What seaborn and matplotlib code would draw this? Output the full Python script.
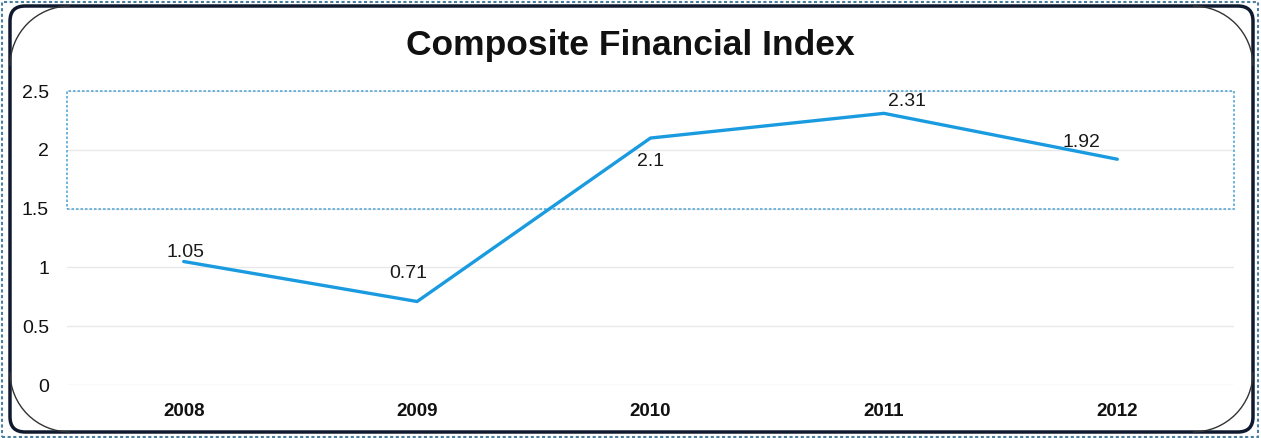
import matplotlib
matplotlib.use("Agg")
import matplotlib.pyplot as plt
import seaborn as sns
import pandas as pd
from matplotlib.patches import FancyBboxPatch, Rectangle, Arc

years = ["2008", "2009", "2010", "2011", "2012"]
index_values = [1.05, 0.71, 2.1, 2.31, 1.92]
y_ticks = [0, 0.5, 1, 1.5, 2, 2.5]
y_tick_labels = ["0", "0.5", "1", "1.5", "2", "2.5"]
band_low, band_high = 1.5, 2.5

sns.set_theme(style="white")
plt.rcParams["font.family"] = ["Liberation Sans", "DejaVu Sans"]

df = pd.DataFrame({"year": years, "value": index_values})

fig = plt.figure(figsize=(12.61, 4.38), dpi=100)
ax = fig.add_axes([67 / 1261, 1 - 385 / 438, (1234 - 67) / 1261, (385 - 91) / 438])

sns.lineplot(data=df, x="year", y="value", ax=ax, color="#1A9BE0",
             linewidth=2.4, sort=False)

ax.set_xlim(-0.5, 4.5)
ax.set_ylim(0, 2.5)
ax.set_yticks(y_ticks)
ax.set_yticklabels(y_tick_labels, fontsize=14, color="#111111")
ax.set_xlabel("")
ax.set_ylabel("")
for lab in ax.get_xticklabels():
    lab.set_fontweight("bold")
    lab.set_fontsize(13.5)
    lab.set_color("#111111")
ax.tick_params(axis="x", pad=13, length=0)
ax.tick_params(axis="y", pad=13, length=0)
for s in ax.spines.values():
    s.set_visible(False)
ax.grid(axis="y", color="#e8e8e8", linewidth=1.0)
ax.set_axisbelow(True)

# dotted highlight band
ax.add_patch(Rectangle((-0.5, band_low), 5, band_high - band_low, fill=False,
                       edgecolor="#5aa9d6", linestyle=(0, (1.5, 1.2)),
                       linewidth=1.2, clip_on=False, zorder=1))

# value labels
offsets = [(1, 6.5), (-6.5, 20), (0, -17), (16.5, 8.5), (-26, 12)]
for i, (v, off) in enumerate(zip(index_values, offsets)):
    ax.annotate(f"{v:g}", (i, v), xytext=off, textcoords="offset points",
                ha="center", va="center", fontsize=14, color="#1a1a1a")

fig.suptitle("Composite Financial Index", x=0.5, y=1 - 46 / 438, va="center",
             fontsize=25.5, fontweight="bold", color="#111111")

# frame around the chart
frame = FancyBboxPatch((10 / 1261, 6 / 438), (1253 - 10) / 1261, (432 - 6) / 438,
                       boxstyle="round,pad=0,rounding_size=0.012",
                       transform=fig.transFigure, fill=False,
                       edgecolor="#0f1a2e", linewidth=2.5,
                       mutation_aspect=1261 / 438)
fig.patches.append(frame)

# thin outer corner arcs
r = 60
for cx, cy, t1, t2 in [(10 + r, 438 - 6 - r, 90, 180),
                       (1253 - r, 438 - 6 - r, 0, 90),
                       (10 + r, 6 + r, 180, 270),
                       (1253 - r, 6 + r, 270, 360)]:
    arc = Arc((cx / 1261, cy / 438), 2 * r / 1261, 2 * r / 438,
              theta1=t1, theta2=t2, transform=fig.transFigure,
              color="#333333", linewidth=1.0)
    fig.patches.append(arc)

# dotted outer border
outer = Rectangle((2 / 1261, 1 / 438), 1256 / 1261, 435 / 438,
                  transform=fig.transFigure, fill=False,
                  edgecolor="#4a7fa0", linestyle=(0, (1.5, 1.2)), linewidth=1.5)
fig.patches.append(outer)

fig.savefig("out.png", dpi=100, facecolor="white")
